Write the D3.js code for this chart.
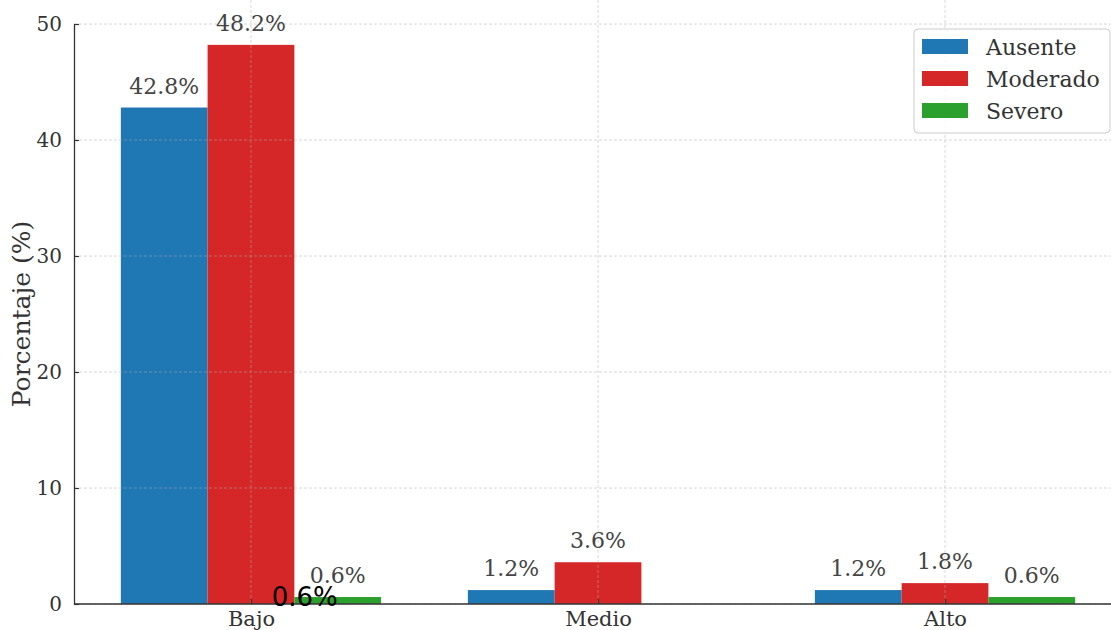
<!DOCTYPE html>
<html>
<head>
<meta charset="utf-8">
<script src="https://cdn.jsdelivr.net/npm/d3@7"></script>
<style>
body{margin:0;background:#fff;}
text{font-family:"DejaVu Serif",serif;}
</style>
</head>
<body>
<svg id="chart" width="1111" height="630"></svg>
<script>
var categories=["Bajo","Medio","Alto"];
var seriesNames=["Ausente","Moderado","Severo"];
var ausente=[42.8,1.2,1.2];
var moderado=[48.2,3.6,1.8];
var severo=[0.6,0,0.6];
var yTicks=[0,10,20,30,40,50];
var colours=["#1f77b4","#d62728","#2ca02c"];
var values=[ausente,moderado,severo];

var svg=d3.select("#chart");
var x=d3.scalePoint().domain(categories).range([74,1122]).padding(0.51);
var y=d3.scaleLinear().domain([0,50]).range([604,24]);
var step=x.step(), bw=step*0.25;

// bars
values.forEach(function(vals,s){
  svg.append("g").selectAll("rect").data(vals).enter().append("rect")
    .attr("x",function(d,i){return x(categories[i])+(s-1)*bw-bw/2;})
    .attr("y",function(d){return y(d);})
    .attr("width",bw)
    .attr("height",function(d){return y(0)-y(d);})
    .attr("fill",colours[s]);
});

// grid (drawn over bars)
var grid=svg.append("g").attr("stroke","#b0b0b0").attr("stroke-width",0.8)
  .attr("stroke-dasharray","3,2").attr("opacity",0.6);
yTicks.forEach(function(t){
  grid.append("line").attr("x1",74).attr("x2",1111).attr("y1",y(t)).attr("y2",y(t));
});
categories.forEach(function(c){
  grid.append("line").attr("x1",x(c)).attr("x2",x(c)).attr("y1",0).attr("y2",604);
});

// axes
var yAxis=svg.append("g").attr("transform","translate(74,0)")
  .call(d3.axisLeft(y).tickValues(yTicks).tickSizeInner(-5).tickSizeOuter(0).tickPadding(12));
var xAxis=svg.append("g").attr("transform","translate(0,604)")
  .call(d3.axisBottom(x).tickSizeInner(-5).tickSizeOuter(0).tickPadding(7));
[yAxis,xAxis].forEach(function(a){
  a.select(".domain").attr("stroke","#333").attr("stroke-width",1.3);
  a.selectAll(".tick line").attr("stroke","#333").attr("stroke-width",1.2);
  a.selectAll("text").attr("fill","#333").style("font-size","20px").style("font-family","DejaVu Serif");
});
xAxis.selectAll("text").style("font-size","21px");
xAxis.select(".domain").attr("d","M74,0H1111");

svg.append("text").attr("transform","translate(30,"+y(25)+") rotate(-90)")
  .attr("text-anchor","middle").attr("fill","#333").style("font-size","25px").text("Porcentaje (%)");

// bar labels
values.forEach(function(vals,s){
  vals.forEach(function(v,i){
    if(v<=0) return;
    svg.append("text")
      .attr("x",x(categories[i])+(s-1)*bw)
      .attr("y",y(v)-14)
      .attr("text-anchor","middle").attr("fill","#444").style("font-size","22px")
      .text(v.toFixed(1)+"%");
  });
});

// stray annotation
svg.append("text")
  .attr("x",x("Bajo")+bw).attr("y",y(0.6))
  .attr("dy","0.36em").attr("text-anchor","end")
  .style("font-family","DejaVu Sans").style("font-size","26px").attr("fill","#000")
  .text("0.6%");

// legend
var lg=svg.append("g").attr("transform","translate(914,29)");
lg.append("rect").attr("width",196).attr("height",104).attr("rx",4)
  .attr("fill","#fff").attr("fill-opacity",0.85).attr("stroke","#cccccc");
seriesNames.forEach(function(n,i){
  lg.append("rect").attr("x",8).attr("y",10+i*32).attr("width",46).attr("height",15).attr("fill",colours[i]);
  lg.append("text").attr("x",72).attr("y",18+i*32).attr("dy","0.36em")
    .attr("fill","#333").style("font-size","22px").text(n);
});
</script>
</body>
</html>
